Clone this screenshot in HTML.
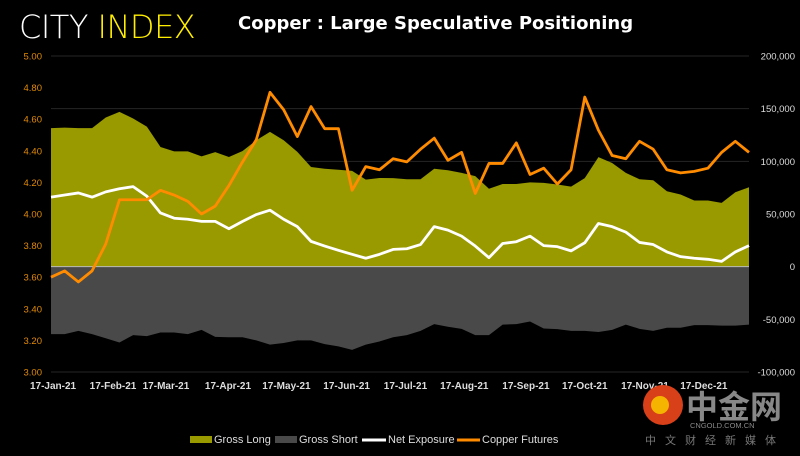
<!DOCTYPE html>
<html><head><meta charset="utf-8"><style>
html,body{margin:0;padding:0;background:#000;width:800px;height:456px;overflow:hidden}
body{position:relative;font-family:"Liberation Sans","Noto Sans CJK SC",sans-serif}
#logo{position:absolute;left:19px;top:8px;font-size:32px;color:#fff;font-family:"DejaVu Sans","Liberation Sans",sans-serif;font-weight:300;letter-spacing:-0.5px}
#logo span{color:#ffee00}
#title{position:absolute;left:238px;top:13px;font-size:18px;font-weight:bold;color:#fff;font-family:"DejaVu Sans","Liberation Sans",sans-serif}
svg{position:absolute;left:0;top:0}
</style></head><body>
<div id="logo">CITY <span>INDEX</span></div>
<div id="title">Copper : Large Speculative Positioning</div>
<svg id="chart" width="800" height="456"></svg>
<script>
const grossLong=[131.5,132,131.5,131.5,141.6,147,140.7,133,113.6,109.5,109.5,104.7,108.8,104.1,109.8,120,128,120,109,94.6,93,92,91,82.6,84.2,84,83,83,93,91.5,89,86,74,78.5,78.5,80,79.5,78,76,84,104,98.4,89,83,82,71.6,68.5,62.8,62.8,60.6,70.7,75.4];
const grossShort=[-64,-64,-61,-64,-68,-72,-65,-66,-62.5,-62.5,-64,-60,-66.6,-67,-67,-70,-74,-72.5,-70,-70,-73.5,-75.7,-79,-74,-71,-67,-65,-61,-54.6,-57,-59,-65,-65,-55,-54.6,-52,-58.7,-59.3,-61,-61,-62,-60,-55,-59,-61,-58,-58,-55.5,-55.5,-56,-56,-55];
const netExposure=[66,68,70,66,71,74,76,67,51,46,45,43,43,36,43,49.5,53.6,45,38,24,19.6,15.5,11.7,8,11.7,16.4,17,21,38,34.7,29,19.6,8.5,22,23.7,29,20,19,15,22.7,41,38,32.8,23,21,14,9.5,8,7,5,14,20];
const copper=[3.60,3.64,3.57,3.64,3.81,4.09,4.09,4.09,4.15,4.12,4.08,4.00,4.05,4.18,4.33,4.47,4.77,4.66,4.49,4.68,4.54,4.54,4.15,4.30,4.28,4.35,4.33,4.41,4.48,4.34,4.39,4.13,4.32,4.32,4.45,4.25,4.29,4.19,4.28,4.74,4.53,4.37,4.35,4.46,4.41,4.28,4.26,4.27,4.29,4.39,4.46,4.39];
const xLabels=["17-Jan-21","17-Feb-21","17-Mar-21","17-Apr-21","17-May-21","17-Jun-21","17-Jul-21","17-Aug-21","17-Sep-21","17-Oct-21","17-Nov-21","17-Dec-21"];
const xLabelIdx=[0.15,4.53,8.4,12.93,17.2,21.6,25.9,30.2,34.7,39,43.4,47.7];
const leftTicks=[3.00,3.20,3.40,3.60,3.80,4.00,4.20,4.40,4.60,4.80,5.00];
const rightTicks=[-100,-50,0,50,100,150,200];

const svg=document.getElementById('chart');
const NS='http://www.w3.org/2000/svg';
const X0=51,X1=749,Y0=56,Y1=372;
const n=copper.length;
const xs=i=>X0+i*(X1-X0)/(n-1);
const yL=v=>Y1-(v-3)/2*(Y1-Y0);
const yR=v=>Y1-(v+100)/300*(Y1-Y0);
function mk(t,a){const e=document.createElementNS(NS,t);for(const k in a)e.setAttribute(k,a[k]);svg.appendChild(e);return e;}
rightTicks.forEach(v=>{const g=mk('line',{x1:X0,x2:X1,y1:yR(v),y2:yR(v),stroke:'#262626','stroke-width':1});

});
let dl='M'+xs(0)+','+yR(0);grossLong.forEach((v,i)=>dl+=' L'+xs(i)+','+yR(v));dl+=' L'+xs(n-1)+','+yR(0)+'Z';
const al=mk('path',{d:dl,fill:'#999900'});


let ds='M'+xs(0)+','+yR(0);grossShort.forEach((v,i)=>ds+=' L'+xs(i)+','+yR(v));ds+=' L'+xs(n-1)+','+yR(0)+'Z';
const as=mk('path',{d:ds,fill:'#494949'});


const zl=mk('line',{x1:X0,x2:X1,y1:yR(0),y2:yR(0),stroke:'#bbb','stroke-width':1});


const ln=mk('polyline',{points:netExposure.map((v,i)=>xs(i)+','+yR(v)).join(' '),fill:'none',stroke:'#fff','stroke-width':2.8,'stroke-linejoin':'round'});


const lc=mk('polyline',{points:copper.map((v,i)=>xs(i)+','+yL(v)).join(' '),fill:'none',stroke:'#ff8c00','stroke-width':2.8,'stroke-linejoin':'round'});


leftTicks.forEach(v=>{const t=mk('text',{x:42,y:yL(v)+3.5,'text-anchor':'end',fill:'#e08a00','font-size':9.5,'font-family':'Liberation Sans, sans-serif'});t.textContent=v.toFixed(2);

});
rightTicks.forEach(v=>{const t=mk('text',{x:795,y:yR(v)+3.5,'text-anchor':'end',fill:'#ddd','font-size':9.5,'font-family':'Liberation Sans, sans-serif'});t.textContent=(v*1000).toLocaleString('en-US');

});
xLabels.forEach((s,i)=>{const t=mk('text',{x:xs(xLabelIdx[i]),y:389,'text-anchor':'middle',fill:'#ddd','font-size':10,'font-weight':'bold','font-family':'Liberation Sans, sans-serif'});t.textContent=s;

});
</script>
<svg width="800" height="456" style="pointer-events:none">
<g><rect x="190" y="436" width="22" height="7" fill="#999900"/><text x="214" y="443" fill="#ddd" font-size="11" font-family="Liberation Sans">Gross Long</text></g>
<g><rect x="275" y="436" width="22" height="7" fill="#494949"/><text x="299" y="443" fill="#ddd" font-size="11" font-family="Liberation Sans">Gross Short</text></g>
<g><line x1="362" x2="386" y1="440" y2="440" stroke="#fff" stroke-width="3"/><text x="388" y="443" fill="#ddd" font-size="11" font-family="Liberation Sans">Net Exposure</text></g>
<g><line x1="457" x2="480" y1="440" y2="440" stroke="#ff8c00" stroke-width="3"/><text x="482" y="443" fill="#ddd" font-size="11" font-family="Liberation Sans">Copper Futures</text></g>
<g>
<circle cx="663" cy="405" r="20" fill="#d8401a"/><circle cx="660" cy="405" r="9" fill="#f4b400"/>
<text x="686" y="418" fill="#888" font-size="32" font-weight="bold" font-family="Noto Sans CJK SC, sans-serif">中金网</text>
<text x="690" y="428" fill="#888" font-size="7.5" font-family="Liberation Sans">CNGOLD.COM.CN</text>
<text x="645" y="444" fill="#777" font-size="11" font-family="Noto Sans CJK SC, sans-serif" letter-spacing="9">中文财经新媒体</text>
</g>
</svg>
</body></html>
